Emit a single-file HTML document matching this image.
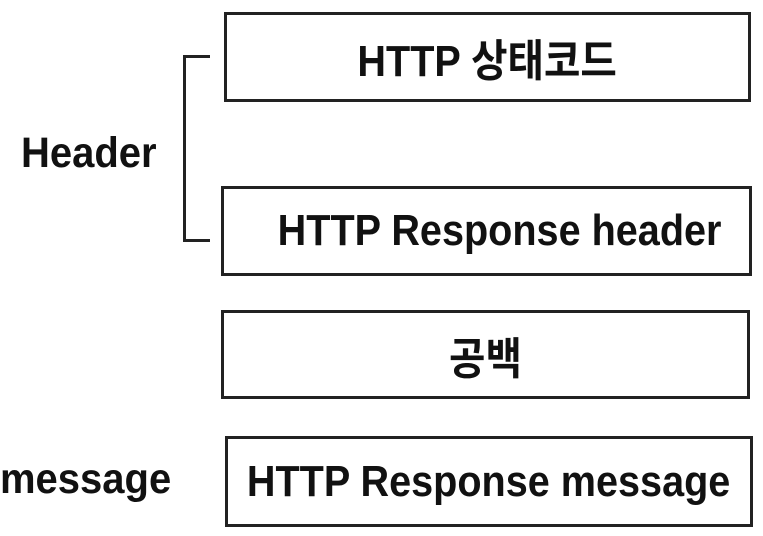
<!DOCTYPE html>
<html><head><style>
body{margin:0;width:763px;height:536px;background:#fff;position:relative;overflow:hidden;font-family:"Liberation Sans","Noto Sans CJK KR",sans-serif;font-weight:bold;color:#111}
.b{position:absolute;border:3px solid #222;box-sizing:border-box;display:flex;align-items:center;justify-content:center;font-size:44px;}
.b span,.t span{display:inline-block;transform:scaleX(0.9);white-space:nowrap}
.t{position:absolute;font-size:43px;line-height:1;width:200px}
.t span{transform:scaleX(0.93);transform-origin:left}
.l{position:absolute;background:#222}
</style></head><body>
<div class="b" style="left:224px;top:12px;width:527px;height:90px;"><span>HTTP 상태코드</span></div>
<div class="b" style="left:221px;top:186px;width:531px;height:90px;padding-left:26px"><span>HTTP Response header</span></div>
<div class="b" style="left:221px;top:310px;width:529px;height:89px;"><span>공백</span></div>
<div class="b" style="left:225px;top:436px;width:528px;height:91px;"><span>HTTP Response message</span></div>
<div class="t" style="left:21px;top:132px;"><span>Header</span></div>
<div class="t" style="left:0px;top:458px;"><span>message</span></div>
<div class="l" style="left:183px;top:55px;width:3px;height:187px"></div>
<div class="l" style="left:183px;top:55px;width:27px;height:3px"></div>
<div class="l" style="left:183px;top:239px;width:27px;height:3px"></div>
</body></html>
